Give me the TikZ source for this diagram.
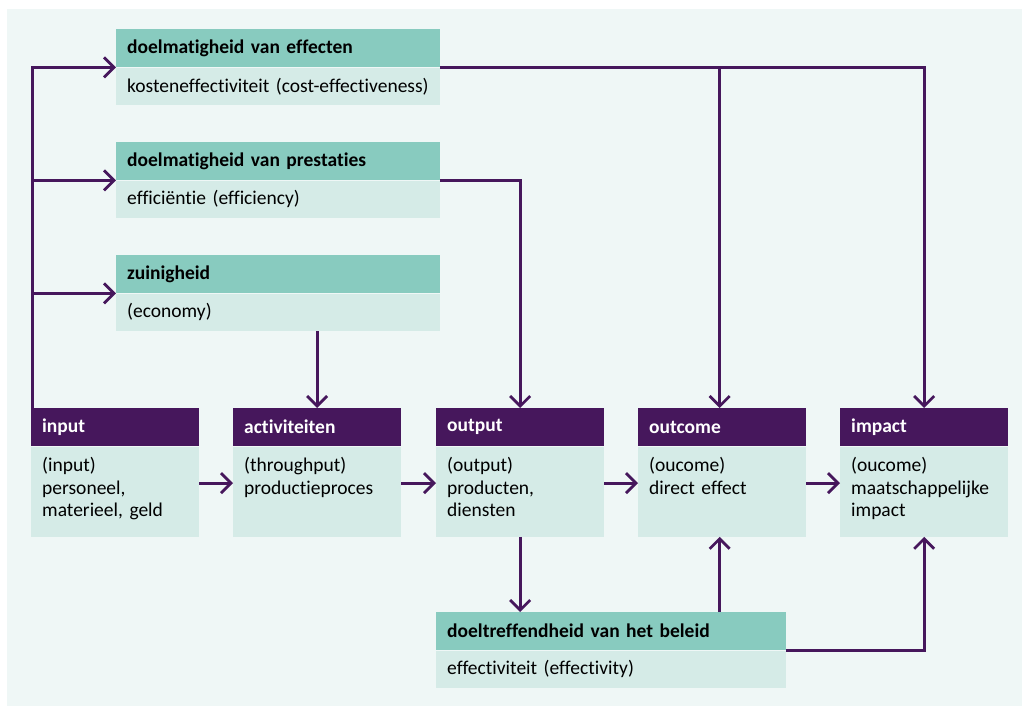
\documentclass[tikz,border=0pt]{standalone}
\usepackage{fontspec}
\setmainfont{Carlito}[Ligatures=NoCommon]
\usepackage{tikz}
\usetikzlibrary{positioning,calc}
\usetikzlibrary{arrows.meta}
\definecolor{panel}{HTML}{EFF7F6}
\definecolor{teal}{HTML}{88CBBF}
\definecolor{light}{HTML}{D5EBE7}
\definecolor{purple}{HTML}{46175C}

\begin{document}
\begin{tikzpicture}[
  x = 1pt, y = -1pt,
  every node/.style = {
    font = \fontsize{19.5pt}{22.5pt}\selectfont,
  },
  hdr/.style = {
    anchor = north west,
    fill = teal,
    text = black,
    minimum height = 38pt,
    inner xsep = 11pt,
    inner ysep = 0pt,
    text width = #1,
    align = left,
    font = \fontsize{19.5pt}{22.5pt}\selectfont\bfseries,
  },
  dark/.style = {
    fill = purple,
    text = white,
  },
  body/.style = {
    fill = light,
    inner xsep = 11pt,
    inner ysep = 0pt,
    minimum height = 37.5pt,
    text width = #1,
    align = left,
  },
  tall/.style = {
    inner ysep = 10pt,
    text height = 15pt,
    text depth = 55pt,
  },
  flow/.style = {
    line width = 2.8pt,
    draw = purple,
  },
  >={Straight Barb[length=10pt,width=20pt]},
]

  \useasboundingbox (0,0) rectangle (1022,706);
  \fill[panel] (7,9) rectangle (1022,706);

  % upper boxes
  \node[hdr=302pt] (effhdr) at (116,29) {doelmatigheid van effecten};
  \node[body=302pt] (effbody) [below=0pt of effhdr] {kosteneffectiviteit (cost-effectiveness)};

  \node[hdr=302pt] (prshdr) at (116,142) {doelmatigheid van prestaties};
  \node[body=302pt] (prsbody) [below=0pt of prshdr] {efficiëntie (efficiency)};

  \node[hdr=302pt] (zuihdr) at (116,255) {zuinigheid};
  \node[body=302pt] (zuibody) [below=0pt of zuihdr] {(economy)};

  % chain
  \node[hdr=146pt,dark] (inhdr) at (31,408) {input};
  \node[body=146pt,tall] (inbody) [below=0pt of inhdr] {(input)\\personeel,\\materieel, geld};

  \node[hdr=146pt,dark] (acthdr) at (233,408) {activiteiten};
  \node[body=146pt,tall] (actbody) [below=0pt of acthdr] {(throughput)\\productieproces};

  \node[hdr=146pt,dark] (outhdr) at (436,408) {output};
  \node[body=146pt,tall] (outbody) [below=0pt of outhdr] {(output)\\producten,\\diensten};

  \node[hdr=146pt,dark] (ochdr) at (638,408) {outcome};
  \node[body=146pt,tall] (ocbody) [below=0pt of ochdr] {(oucome)\\direct effect};

  \node[hdr=146pt,dark] (imphdr) at (840,408) {impact};
  \node[body=146pt,tall] (impbody) [below=0pt of imphdr] {(oucome)\\maatschappelijke\\impact};

  % lower box
  \node[hdr=328pt] (dthdr) at (436,612) {doeltreffendheid van het beleid};
  \node[body=328pt] (dtbody) [below=0pt of dthdr] {effectiviteit (effectivity)};

  % connectors
  \draw[flow,->] ([xshift=1.5pt]inhdr.north west) |- (effhdr.south west);
  \draw[flow,->] ([xshift=1.5pt]inhdr.north west) |- (prshdr.south west);
  \draw[flow,->] ([xshift=1.5pt]inhdr.north west) |- (zuihdr.south west);

  \draw[flow,->] (effhdr.south east) -| (imphdr.north);
  \draw[flow,->] (effhdr.south east) -| ([xshift=-2.5pt]ochdr.north);
  \draw[flow,->] (prshdr.south east) -| (outhdr.north);
  \draw[flow,->] (zuibody.south -| acthdr.north) -- (acthdr.north);

  \draw[flow,->] ([yshift=8.5pt]inbody.east) -- ([yshift=8.5pt]actbody.west);
  \draw[flow,->] ([yshift=8.5pt]actbody.east) -- ([yshift=8.5pt]outbody.west);
  \draw[flow,->] ([yshift=8.5pt]outbody.east) -- ([yshift=8.5pt]ocbody.west);
  \draw[flow,->] ([yshift=8.5pt]ocbody.east) -- ([yshift=8.5pt]impbody.west);

  \draw[flow,->] (outbody.south) -- (outbody.south |- dthdr.north);
  \draw[flow,->] ([xshift=-2.5pt]ocbody.south |- dthdr.north) -- ([xshift=-2.5pt]ocbody.south);
  \draw[flow,->] (dthdr.south east) -| (impbody.south);
\end{tikzpicture}
\end{document}
